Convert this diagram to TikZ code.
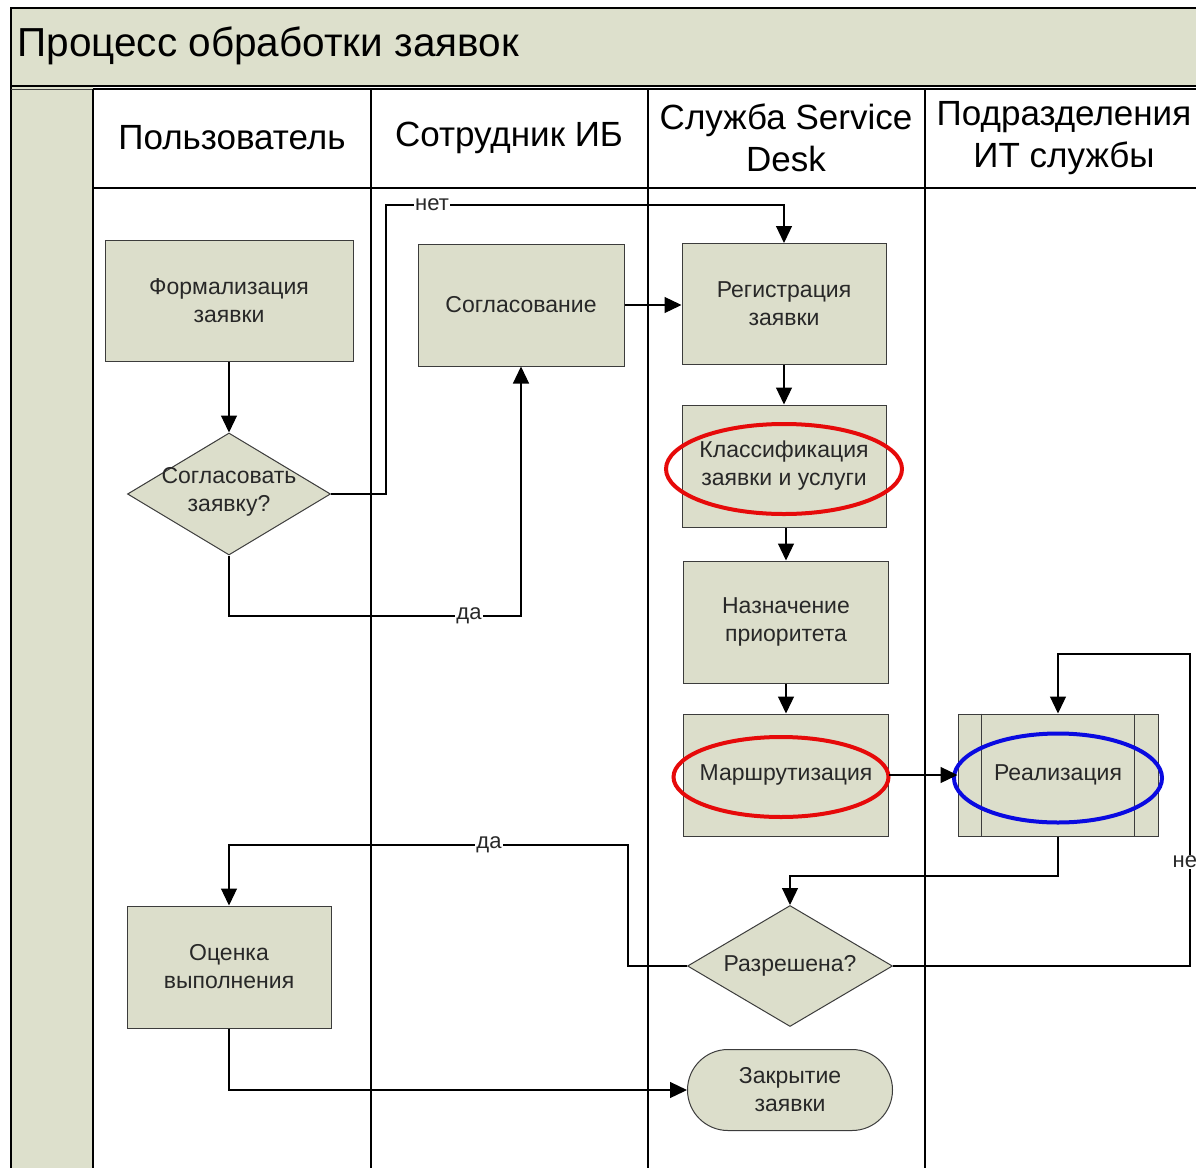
\documentclass[tikz,border=0pt]{standalone}
\usepackage{fontspec}
\setmainfont{Liberation Sans}
\usetikzlibrary{arrows.meta,shapes.geometric,shapes.misc}
\definecolor{bandfill}{RGB}{221,224,204}
\definecolor{boxfill}{RGB}{220,222,203}
\definecolor{txtgray}{RGB}{40,40,40}
\definecolor{edgegray}{RGB}{60,60,60}
\definecolor{ovred}{RGB}{230,10,10}
\definecolor{ovblue}{RGB}{10,10,225}
\begin{document}
\begin{tikzpicture}[x=1pt,y=-1pt,
  lane/.style={draw=black, line width=1.2pt},
  hdr/.style={font=\fontsize{35}{42}\selectfont, align=center, text=black},
  proc/.style={draw=edgegray, line width=1pt, fill=boxfill, inner sep=0pt,
    font=\fontsize{23}{28}\selectfont, text=txtgray, align=center},
  dec/.style={diamond, draw=edgegray, line width=1pt, fill=boxfill, inner sep=0pt},
  dectext/.style={font=\fontsize{23}{28}\selectfont, text=txtgray, align=center},
  arr/.style={draw=black, line width=1.2pt, -{Triangle[length=17pt,width=16pt]}},
  lbl/.style={fill=white, inner sep=1pt, font=\fontsize{22}{24}\selectfont, text=txtgray},
  ring/.style={ellipse, draw, line width=4pt, inner sep=0pt}
]
\useasboundingbox (0,0) rectangle (1196,1167);
\clip (0,0) rectangle (1196,1167);
\fill[white] (0,0) rectangle (1196,1167);
% title band and left band
\fill[bandfill] (11,8) rectangle (1210,86);
\fill[bandfill] (11,86) rectangle (93,1180);
\draw[lane] (1210,8) -- (11,8) -- (11,1180);
\draw[lane] (11,86) -- (1210,86);
\draw[edgegray, line width=0.8pt] (11,89) -- (93,89);
\node[anchor=west, font=\fontsize{40.5}{46}\selectfont, text=black] (title) at (14,46) {Процесс обработки заявок};
% lanes
\draw[lane] (93,89) -- (1210,89);
\draw[lane] (93,188) -- (1210,188);
\foreach \xx in {93,371,648,925} { \draw[lane] (\xx,89) -- (\xx,1180); }
\node[hdr] (h1) at (232,138) {Пользователь};
\node[hdr] (h2) at (509,138) {Сотрудник ИБ};
\node[hdr] (h3) at (786,138) {Служба Service\\Desk};
\node[hdr] (h4) at (1064,138) {Подразделения\\ИТ службы};
% nodes
\node[proc, minimum width=248pt, minimum height=121pt] (form) at (229,301) {Формализация\\заявки};
\node[dec, minimum width=203pt, minimum height=122pt] (agree) at (229,494) {};
\node[dectext] (agreet) at (229,492) {Согласовать\\заявку?};
\node[proc, minimum width=206pt, minimum height=122pt] (soglas) at (521,305) {Согласование};
\node[proc, minimum width=204pt, minimum height=121pt] (reg) at (784,304) {Регистрация\\заявки};
\node[proc, minimum width=204pt, minimum height=122pt] (klass) at (784,466) {Классификация\\заявки и услуги};
\node[proc, minimum width=205pt, minimum height=122pt] (naz) at (786,622) {Назначение\\приоритета};
\node[proc, minimum width=205pt, minimum height=122pt] (marsh) at (786,775) {Маршрутизация};
\node[proc, minimum width=200pt, minimum height=122pt] (real) at (1058,775) {Реализация};
\draw[edgegray, line width=1pt] ([xshift=24pt]real.north west) -- ([xshift=24pt]real.south west);
\draw[edgegray, line width=1pt] ([xshift=-24pt]real.north east) -- ([xshift=-24pt]real.south east);
\node[dec, minimum width=205pt, minimum height=121pt] (resolved) at (790,966) {};
\node[dectext] (resolvedt) at (790,966) {Разрешена?};
\node[proc, minimum width=204pt, minimum height=122pt] (eval) at (229,967) {Оценка\\выполнения};
\node[rounded rectangle, draw=edgegray, line width=1pt, fill=boxfill, inner sep=0pt,
  minimum width=205pt, minimum height=81pt, font=\fontsize{23}{28}\selectfont,
  text=txtgray, align=center] (close) at (790,1090) {Закрытие\\заявки};
% highlight rings
\node[ring, draw=ovred, minimum width=236pt, minimum height=90pt] (ring1) at (784,469) {};
\node[ring, draw=ovred, minimum width=215pt, minimum height=80pt] (ring2) at (781,777) {};
\node[ring, draw=ovblue, minimum width=208pt, minimum height=89pt] (ring3) at (1058,778) {};
% connectors
\draw[arr] (form.south) -- (agree.north);
\draw[arr] (agree.east) -| (386,205) -| (reg.north);
\node[lbl] (lno1) at (432,205) {нет};
\draw[arr] (agree.south) |- (470,616) -| (soglas.south);
\node[lbl] (lyes1) at (469,616) {да};
\draw[arr] (soglas.east) -- (reg.west |- soglas.east);
\draw[arr] (reg.south) -- (klass.north);
\draw[arr] (klass.south -| naz.north) -- (naz.north);
\draw[arr] (naz.south) -- (marsh.north);
\draw[arr] (marsh.east) -- (real.west);
\draw[arr] (real.south) |- (900,876) -| (resolved.north);
\draw[arr] (resolved.east) -| (1190,654) -| (real.north);
\node[lbl, anchor=west, inner sep=0.5pt] (lno2) at (1172,862) {не};
\draw[arr] (resolved.west) -| (628,845) -| (eval.north);
\node[lbl] (lyes2) at (489,845) {да};
\draw[arr] (eval.south) |- (close.west);
\end{tikzpicture}
\end{document}
